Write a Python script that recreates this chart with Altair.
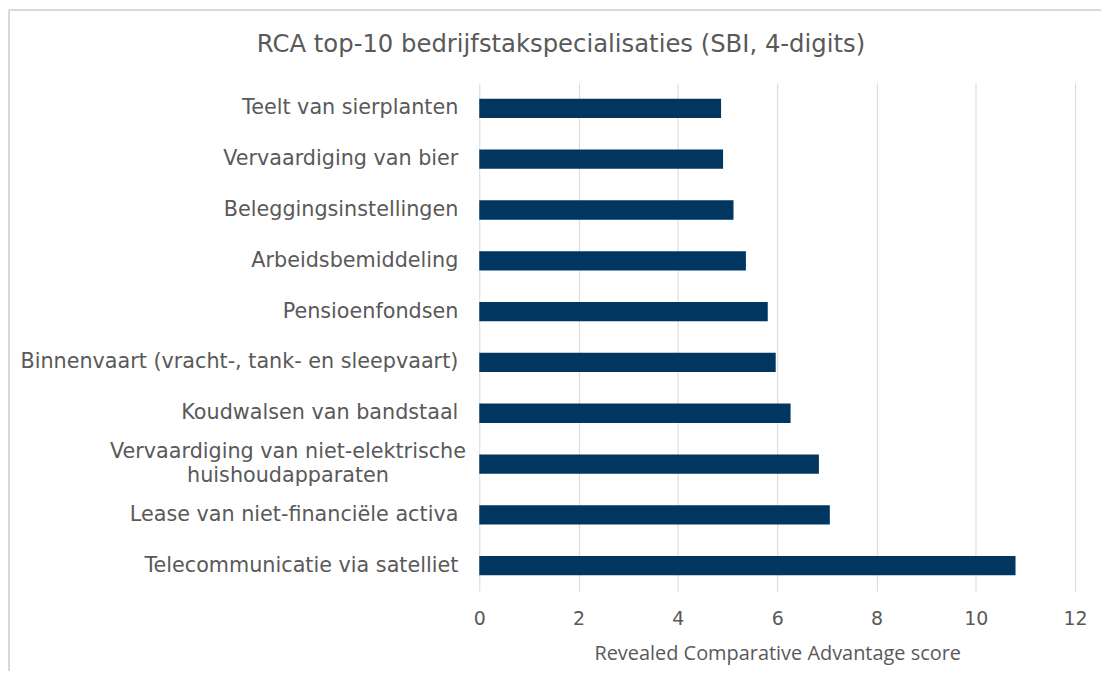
import altair as alt
import pandas as pd

title_text = ["RCA top-10 bedrijfstakspecialisaties (SBI, 4-digits)"]
categories = [
    "Teelt van sierplanten",
    "Vervaardiging van bier",
    "Beleggingsinstellingen",
    "Arbeidsbemiddeling",
    "Pensioenfondsen",
    "Binnenvaart (vracht-, tank- en sleepvaart)",
    "Koudwalsen van bandstaal",
    "Vervaardiging van niet-elektrische huishoudapparaten",
    "Lease van niet-financiële activa",
    "Telecommunicatie via satelliet",
]
values = [4.87, 4.91, 5.12, 5.37, 5.81, 5.97, 6.27, 6.84, 7.06, 10.80]
wrapped = {
    "Vervaardiging van niet-elektrische huishoudapparaten":
        "Vervaardiging van niet-elektrische\nhuishoudapparaten",
}
x_ticks = [0, 2, 4, 6, 8, 10, 12]

df = pd.DataFrame({
    "cat": categories,
    "val": values,
    "display": [wrapped.get(c, c) for c in categories],
    "wrap": [c in wrapped for c in categories],
})
title_df = pd.DataFrame({"t": title_text})

GREY = "#595959"
FONT = "DejaVu Sans"

y_enc = alt.Y("cat:N", sort=None, axis=None,
              scale=alt.Scale(paddingInner=0.62, paddingOuter=0.31))

bars = alt.Chart(df).mark_bar(color="#003660").encode(
    x=alt.X("val:Q",
            scale=alt.Scale(domain=[0, 12], nice=False),
            axis=alt.Axis(values=x_ticks, grid=True, gridColor="#d9d9d9",
                          gridWidth=1, domain=False, ticks=False, tickSize=0,
                          labelFlush=False,
                          labelFont=FONT, labelFontSize=19, labelColor=GREY,
                          labelPadding=19,
                          title="Revealed Comparative Advantage score",
                          titleFont="Open Sans", titleFontSize=20,
                          titleFontWeight="normal", titleColor=GREY,
                          titlePadding=15)),
    y=y_enc,
)

labels_single = alt.Chart(df).transform_filter("!datum.wrap").mark_text(
    align="right", baseline="middle", font=FONT, fontSize=20.8, color=GREY
).encode(
    x=alt.value(-21),
    y=y_enc,
    text="display:N",
)

labels_wrap = alt.Chart(df).transform_filter("datum.wrap").mark_text(
    align="center", baseline="middle", font=FONT, fontSize=20.8, color=GREY,
    lineBreak="\n", lineHeight=25, dy=-12.5
).encode(
    x=alt.value(-192),
    y=y_enc,
    text="display:N",
)

title = alt.Chart(title_df).mark_text(
    align="center", baseline="middle", font=FONT, fontSize=24.4, color=GREY
).encode(
    x=alt.value(82), y=alt.value(-38), text="t:N"
)

frame_top = alt.Chart(df).mark_rule(color="#d9d9d9", strokeWidth=1).encode(
    x=alt.value(-472), x2=alt.value(624), y=alt.value(-73)
)
frame_left = alt.Chart(df).mark_rule(color="#d9d9d9", strokeWidth=1).encode(
    x=alt.value(-472), y=alt.value(-73), y2=alt.value(590)
)

chart = alt.layer(frame_top, frame_left, title, bars, labels_single, labels_wrap).properties(
    width=598,
    height=510,
    padding=0,
).configure_view(strokeWidth=0)

chart.save("out.html", embed_options={"renderer": "svg", "actions": False})
